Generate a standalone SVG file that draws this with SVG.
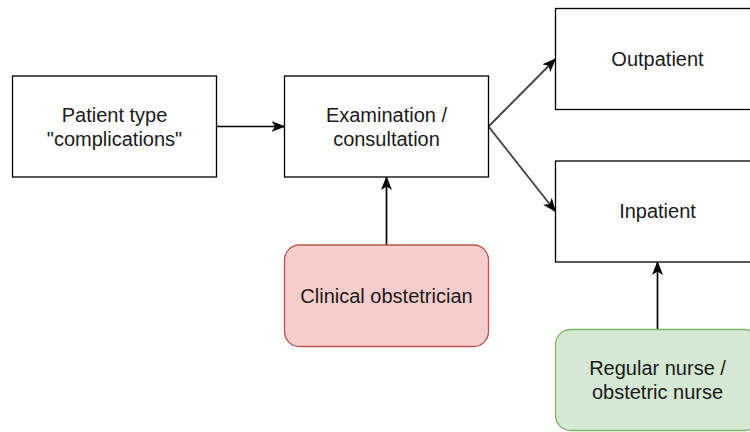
<svg xmlns="http://www.w3.org/2000/svg" width="750" height="432" viewBox="0 0 750 432">
<defs>
<style>
.box{fill:#ffffff;stroke:#000000;stroke-width:1.3}
.red{fill:#f8cecc;stroke:#b85450;stroke-width:1.3}
.green{fill:#d5e8d4;stroke:#82b366;stroke-width:1.3}
.lbl{font-family:"Liberation Sans",Arial,sans-serif;font-size:20px;fill:#1a1a1a;text-anchor:middle}
.edge{fill:none;stroke:#000000;stroke-width:1.7}
.edge2{fill:none;stroke:#444444;stroke-width:1.9}
</style>
<marker id="arr" viewBox="0 0 14 11" refX="13" refY="5.5" markerWidth="14" markerHeight="11" markerUnits="userSpaceOnUse" orient="auto">
<path d="M0,0 L14,5.5 L0,11 L3.5,5.5 Z" fill="#000000"/>
</marker>
</defs>
<rect width="750" height="432" fill="#ffffff"/>
<g id="edges">
<line class="edge" x1="216.5" y1="126.5" x2="284.5" y2="126.5" marker-end="url(#arr)"/>
<line class="edge" x1="386.5" y1="245" x2="386.5" y2="177" marker-end="url(#arr)"/>
<line class="edge" x1="657.5" y1="329.5" x2="657.5" y2="262" marker-end="url(#arr)"/>
<line class="edge2" x1="488.5" y1="126.5" x2="555.5" y2="59" marker-end="url(#arr)"/>
<line class="edge2" x1="488.5" y1="126.5" x2="555.5" y2="211.5" marker-end="url(#arr)"/>
</g>
<g id="patient-type">
<rect class="box" x="12.5" y="76" width="204" height="101"/>
<text class="lbl" x="114.5" y="121.5">Patient type</text>
<text class="lbl" x="114.5" y="145.5">"complications"</text>
</g>
<g id="examination">
<rect class="box" x="284.5" y="76" width="204" height="101"/>
<text class="lbl" x="386.5" y="121.5">Examination /</text>
<text class="lbl" x="386.5" y="145.5">consultation</text>
</g>
<g id="outpatient">
<rect class="box" x="555.5" y="8.5" width="204" height="101"/>
<text class="lbl" x="657.5" y="65.5">Outpatient</text>
</g>
<g id="inpatient">
<rect class="box" x="555.5" y="161" width="204" height="101"/>
<text class="lbl" x="657.5" y="218">Inpatient</text>
</g>
<g id="clinical-obstetrician">
<rect class="red" x="284.5" y="245" width="204" height="101.5" rx="15" ry="15"/>
<text class="lbl" x="386.5" y="302.5">Clinical obstetrician</text>
</g>
<g id="nurse">
<rect class="green" x="555.5" y="329.5" width="204" height="101" rx="15" ry="15"/>
<text class="lbl" x="657.5" y="375">Regular nurse /</text>
<text class="lbl" x="657.5" y="399">obstetric nurse</text>
</g>
</svg>
